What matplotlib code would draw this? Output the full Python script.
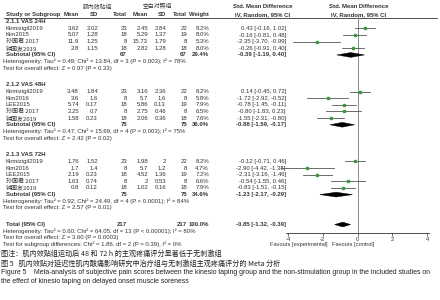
import matplotlib
matplotlib.use("Agg")
import matplotlib.pyplot as plt
from matplotlib.patches import Polygon

plt.rcParams['axes.unicode_minus'] = False
FAM = ['Liberation Sans', 'Noto Sans CJK SC', 'DejaVu Sans']
FAM_CJK = ['Noto Sans CJK SC', 'Liberation Sans', 'DejaVu Sans']
plt.rcParams['font.family'] = FAM

# ---------------- data ----------------
subgroup_titles = ['2.1.1 VAS 24H', '2.1.2 VAS 48H', '2.1.3 VAS 72H']

studies_24 = ['Kirmizigil2019', 'Kim2015', '孙国君 2017', '钟国友2019']
exp_mean_24 = [3.62, 5.07, 11.9, 2.8]
exp_sd_24 = [2.02, 1.28, 1.25, 1.15]
exp_n_24 = [23, 18, 8, 18]
ctl_mean_24 = [2.45, 5.29, 15.73, 2.82]
ctl_sd_24 = [2.84, 1.37, 1.79, 1.28]
ctl_n_24 = [22, 19, 8, 18]
weight_24 = [8.2, 8.0, 5.3, 8.0]
smd_24 = [0.43, -0.16, -2.35, -0.26]
lo_24 = [-0.16, -0.81, -3.70, -0.91]
hi_24 = [1.02, 0.48, -0.99, 0.40]

studies_48 = ['Kirmizigil2019', 'Kim2016', 'LEE2015', '孙国君 2017', '钟国友2019']
exp_mean_48 = [3.48, 3.6, 5.74, 2.25, 1.58]
exp_sd_48 = [1.84, 1.6, 0.17, 0.7, 0.23]
exp_n_48 = [23, 8, 18, 8, 18]
ctl_mean_48 = [3.16, 5.7, 5.86, 2.75, 2.06]
ctl_sd_48 = [2.36, 1.6, 0.13, 0.46, 0.36]
ctl_n_48 = [22, 8, 19, 8, 18]
weight_48 = [8.2, 5.8, 7.9, 6.5, 7.6]
smd_48 = [0.14, -1.72, -0.78, -0.80, -1.55]
lo_48 = [-0.45, -2.92, -1.45, -1.83, -2.31]
hi_48 = [0.72, -0.52, -0.11, 0.23, -0.80]

studies_72 = ['Kirmizigil2019', 'Kim2016', 'LEE2015', '孙国君 2017', '钟国友2019']
exp_mean_72 = [1.76, 1.7, 2.19, 1.63, 0.8]
exp_sd_72 = [1.52, 1.4, 0.23, 0.74, 0.12]
exp_n_72 = [23, 8, 18, 8, 18]
ctl_mean_72 = [1.98, 5.7, 4.52, 2, 1.02]
ctl_sd_72 = [2, 1.2, 1.36, 0.53, 0.16]
ctl_n_72 = [22, 8, 19, 8, 18]
weight_72 = [8.2, 4.7, 7.2, 6.6, 7.9]
smd_72 = [-0.12, -2.90, -2.31, -0.54, -0.83]
lo_72 = [-0.71, -4.42, -3.16, -1.55, -1.51]
hi_72 = [0.46, -1.38, -1.46, 0.46, -0.15]

sub_exp_n = [67, 75, 75]
sub_ctl_n = [67, 75, 75]
sub_weight = [29.4, 36.0, 34.6]
sub_smd = [-0.39, -0.88, -1.23]
sub_lo = [-1.19, -1.59, -2.17]
sub_hi = [0.40, -0.17, -0.29]
sub_het = ['Heterogeneity: Tau² = 0.49; Chi² = 13.84, df = 3 (P = 0.003); I² = 78%',
           'Heterogeneity: Tau² = 0.47; Chi² = 15.69, df = 4 (P = 0.003); I² = 75%',
           'Heterogeneity: Tau² = 0.92; Chi² = 24.49, df = 4 (P < 0.0001); I² = 84%']
sub_test = ['Test for overall effect: Z = 0.97 (P = 0.33)',
            'Test for overall effect: Z = 2.42 (P = 0.02)',
            'Test for overall effect: Z = 2.57 (P = 0.01)']

total_exp_n = 217
total_ctl_n = 217
total_weight = 100.0
total_smd = -0.85
total_lo = -1.32
total_hi = -0.39
total_het = 'Heterogeneity: Tau² = 0.60; Chi² = 64.05, df = 13 (P < 0.00001); I² = 80%'
total_test = 'Test for overall effect: Z = 3.60 (P = 0.0003)'
subgroup_test = 'Test for subgroup differences: Chi² = 1.86, df = 2 (P = 0.39), I² = 0%'

x_ticks = [-4, -2, 0, 2, 4]
favours_left = 'Favours [experimental]'
favours_right = 'Favours [control]'

caption_lines = [
    '图注：肌内效贴组运动后 48 和 72 h 的主观疼痛评分显著低于无刺激组',
    '图 5   肌内效贴对延迟性肌内酸痛影响研究中治疗组与无刺激组主观疼痛评分的 Meta 分析',
    'Figure 5    Meta-analysis of subjective pain scores between the kinesio taping group and the non-stimulation group in the included studies on',
    'the effect of kinesio taping on delayed onset muscle soreness',
]

groups = [
    (studies_24, exp_mean_24, exp_sd_24, exp_n_24, ctl_mean_24, ctl_sd_24, ctl_n_24, weight_24, smd_24, lo_24, hi_24),
    (studies_48, exp_mean_48, exp_sd_48, exp_n_48, ctl_mean_48, ctl_sd_48, ctl_n_48, weight_48, smd_48, lo_48, hi_48),
    (studies_72, exp_mean_72, exp_sd_72, exp_n_72, ctl_mean_72, ctl_sd_72, ctl_n_72, weight_72, smd_72, lo_72, hi_72),
]

# ---------------- layout ----------------
W, H = 440, 300
fig = plt.figure(figsize=(4.4, 3.0), dpi=100)
fig.patch.set_facecolor('white')
ax = fig.add_axes([0, 0, 1, 1])
ax.set_xlim(0, W)
ax.set_ylim(H, 0)
ax.axis('off')

FS = 4.35
TXT = '#333333'
X_NAME, X_HET = 6, 3
X_EM, X_ES, X_EN = 79, 98, 127
X_CM, X_CS, X_CN = 148, 166, 187
X_W, X_CI = 209, 286

PL, PR = 280, 435
PT, PB = 17.5, 233
XMIN, XMAX = -4.46, 4.46

fax = fig.add_axes([PL / W, 1 - PB / H, (PR - PL) / W, (PB - PT) / H])
fax.set_xlim(XMIN, XMAX)
fax.set_ylim(PB, PT)
fax.patch.set_alpha(0)
for s in ['top', 'right', 'left']:
    fax.spines[s].set_visible(False)
fax.spines['bottom'].set_bounds(-4.1, 4.1)
fax.spines['bottom'].set_linewidth(0.6)
fax.spines['bottom'].set_color('#333333')
fax.set_yticks([])
fax.set_xticks(x_ticks)
fax.set_xticklabels([str(t) for t in x_ticks])
fax.tick_params(axis='x', length=2, width=0.5, pad=0.8, labelsize=4.2, colors='#333333')
fax.axvline(0, color='#8a8a8a', lw=0.7, zorder=1)


def t(x, y, s, ha='left', bold=False, size=FS, color=TXT):
    fam = FAM_CJK if any(ord(c) > 0x2E80 for c in s) else FAM
    ax.text(x, y, s, ha=ha, va='center', fontsize=size,
            fontweight='bold' if bold else 'normal', color=color, family=fam)


def fmt(v):
    return '%g' % v


def ci(m, l, h):
    return '%.2f [%.2f, %.2f]' % (m, l, h)


def diamond(m, l, h, y, hh=2.4):
    fax.add_patch(Polygon([(l, y), (m, y - hh), (h, y), (m, y + hh)],
                          closed=True, facecolor='black', edgecolor='black', lw=0.3, zorder=3))


# header
t(97, 6.3, '肌内效贴组', ha='center', size=4.2)
t(157, 6.3, '空白对照组', ha='center', size=4.2)
t(263, 7.0, 'Std. Mean Difference', ha='center', bold=True)
t(359, 7.0, 'Std. Mean Difference', ha='center', bold=True)
hy = 14.3
t(X_NAME, hy, 'Study or Subgroup', bold=True)
t(X_EM, hy, 'Mean', ha='right', bold=True)
t(X_ES, hy, 'SD', ha='right', bold=True)
t(X_EN, hy, 'Total', ha='right', bold=True)
t(X_CM, hy, 'Mean', ha='right', bold=True)
t(X_CS, hy, 'SD', ha='right', bold=True)
t(X_CN, hy, 'Total', ha='right', bold=True)
t(X_W, hy, 'Weight', ha='right', bold=True)
t(263, hy, 'IV, Random, 95% CI', ha='center', bold=True)
t(359, hy, 'IV, Random, 95% CI', ha='center', bold=True)
ax.plot([4, 437], [PT, PT], color='#333333', lw=0.6)

STEP = 6.65
y = 21.7
GREEN = '#3c9a3c'
for g, grp in enumerate(groups):
    names, em, es, en, cm, cs, cn, wt, smd, lo, hi = grp
    t(X_NAME, y, subgroup_titles[g], bold=True)
    y += STEP
    for i in range(len(names)):
        t(X_NAME, y, names[i])
        t(X_EM, y, fmt(em[i]), ha='right')
        t(X_ES, y, fmt(es[i]), ha='right')
        t(X_EN, y, fmt(en[i]), ha='right')
        t(X_CM, y, fmt(cm[i]), ha='right')
        t(X_CS, y, fmt(cs[i]), ha='right')
        t(X_CN, y, fmt(cn[i]), ha='right')
        t(X_W, y, '%.1f%%' % wt[i], ha='right')
        t(X_CI, y, ci(smd[i], lo[i], hi[i]), ha='right')
        fax.plot([lo[i], hi[i]], [y, y], color='#444444', lw=0.55, zorder=2)
        fax.plot([smd[i]], [y], marker='s', ms=0.9 + wt[i] * 0.12,
                 color=GREEN, mec=GREEN, zorder=3)
        y += STEP
    t(X_NAME, y, 'Subtotal (95% CI)', bold=True)
    t(X_EN, y, str(sub_exp_n[g]), ha='right', bold=True)
    t(X_CN, y, str(sub_ctl_n[g]), ha='right', bold=True)
    t(X_W, y, '%.1f%%' % sub_weight[g], ha='right', bold=True)
    t(X_CI, y, ci(sub_smd[g], sub_lo[g], sub_hi[g]), ha='right', bold=True)
    diamond(sub_smd[g], sub_lo[g], sub_hi[g], y)
    y += STEP
    t(X_HET, y, sub_het[g])
    y += STEP
    t(X_HET, y, sub_test[g])
    y += STEP * 2.5

t(X_NAME, y, 'Total (95% CI)', bold=True)
t(X_EN, y, str(total_exp_n), ha='right', bold=True)
t(X_CN, y, str(total_ctl_n), ha='right', bold=True)
t(X_W, y, '%.1f%%' % total_weight, ha='right', bold=True)
t(X_CI, y, ci(total_smd, total_lo, total_hi), ha='right', bold=True)
diamond(total_smd, total_lo, total_hi, y)
y += STEP
t(X_HET, y, total_het)
y += STEP
t(X_HET, y, total_test)
y += STEP
t(X_HET, y, subgroup_test)

t(328, 244.3, favours_left, ha='right', size=4.1)
t(332, 244.3, favours_right, ha='left', size=4.1)

cap_y = [254.3, 263.5, 272.7, 281.5]
cap_size = [5.1, 5.1, 4.98, 4.98]
for cy, cs_, line in zip(cap_y, cap_size, caption_lines):
    t(1, cy, line, size=cs_, color='#222222')

fig.savefig('out.png', dpi=100, facecolor='white')
